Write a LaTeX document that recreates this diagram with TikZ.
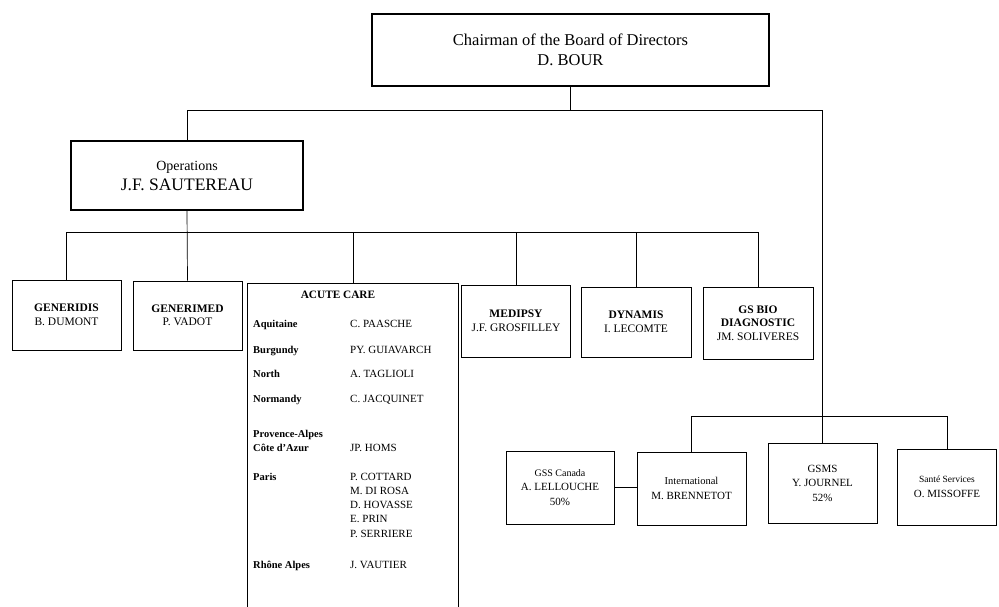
\documentclass[tikz,border=0pt]{standalone}
\usepackage{fontspec}
\setmainfont{Liberation Serif}
\begin{document}
\begin{tikzpicture}[x=1pt,y=-1pt,
  box/.style={draw, line width=0.9pt, rectangle, inner sep=0pt, align=center, font=\fontsize{11.5}{13.5}\selectfont},
  lowbox/.style={box, font=\fontsize{11}{14.5}\selectfont},
  bigbox/.style={box, line width=1.5pt},
  conn/.style={line width=0.7pt},
  lab/.style={anchor=base west, inner sep=0pt, font=\bfseries\fontsize{10.5}{12}\selectfont},
  nm/.style={anchor=base west, inner sep=0pt, font=\fontsize{11}{13}\selectfont}
]
\useasboundingbox (0,0) rectangle (999,607);
\coordinate (bus1) at (0,110);
\coordinate (bus2) at (0,232);
\coordinate (bus3) at (0,416);

\node[bigbox, minimum width=397pt, minimum height=72pt, font=\fontsize{16.5}{20.5}\selectfont] (chair) at (570.5,50) {Chairman of the Board of Directors\\D. BOUR};
\node[bigbox, minimum width=232pt, minimum height=69pt, font=\fontsize{17.5}{20}\selectfont] (ops) at (187,175.5) {{\fontsize{14}{16}\selectfont Operations}\\J.F. SAUTEREAU};

\node[box, minimum width=109pt, minimum height=70pt] (generidis) at (66.5,315) {\textbf{GENERIDIS}\\B. DUMONT};
\node[box, minimum width=109pt, minimum height=69pt] (generimed) at (187.5,315.5) {\textbf{GENERIMED}\\P. VADOT};
\node[box, minimum width=109pt, minimum height=72pt] (medipsy) at (516,321) {\textbf{MEDIPSY}\\J.F. GROSFILLEY};
\node[box, minimum width=110pt, minimum height=70pt] (dynamis) at (636,322) {\textbf{DYNAMIS}\\I. LECOMTE};
\node[box, minimum width=110pt, minimum height=72pt] (gsbio) at (758,323) {\textbf{GS BIO}\\\textbf{DIAGNOSTIC}\\JM. SOLIVERES};

% Acute care box (open at the bottom edge of the page)
\node[inner sep=0pt, minimum width=210pt, minimum height=324pt, anchor=north] (acute) at (353,283) {};
\draw[line width=0.9pt] (acute.south west) -- (acute.north west) -- (acute.north east) -- (acute.south east);
\node[anchor=base, inner sep=0pt, font=\bfseries\fontsize{11.3}{13}\selectfont] (acutetitle) at (338,298) {ACUTE CARE};
\node[lab] (l1) at (253,327) {Aquitaine};
\node[nm]  (n1) at (350,327) {C. PAASCHE};
\node[lab] (l2) at (253,353) {Burgundy};
\node[nm]  (n2) at (350,353) {PY. GUIAVARCH};
\node[lab] (l3) at (253,377) {North};
\node[nm]  (n3) at (350,377) {A. TAGLIOLI};
\node[lab] (l4) at (253,402) {Normandy};
\node[nm]  (n4) at (350,402) {C. JACQUINET};
\node[lab] (l5) at (253,437) {Provence-Alpes};
\node[lab] (l6) at (253,451) {Côte d'Azur};
\node[nm]  (n5) at (350,451) {JP. HOMS};
\node[lab] (l7) at (253,480) {Paris};
\node[nm]  (n6a) at (350,480) {P. COTTARD};
\node[nm]  (n6b) at (350,494) {M. DI ROSA};
\node[nm]  (n6c) at (350,508) {D. HOVASSE};
\node[nm]  (n6d) at (350,522) {E. PRIN};
\node[nm]  (n6e) at (350,537) {P. SERRIERE};
\node[lab] (l8) at (253,568) {Rhône Alpes};
\node[nm]  (n7) at (350,568) {J. VAUTIER};

% Bottom group
\node[lowbox, minimum width=108pt, minimum height=73pt] (canada) at (560,487.5) {{\fontsize{10}{14.5}\selectfont GSS Canada}\\A. LELLOUCHE\\50\%};
\node[lowbox, minimum width=109pt, minimum height=73pt] (intl) at (691.5,488.5) {{\fontsize{10.5}{14.5}\selectfont International}\\M. BRENNETOT};
\node[lowbox, minimum width=109pt, minimum height=80pt] (gsms) at (822.5,483) {GSMS\\Y. JOURNEL\\52\%};
\node[lowbox, minimum width=99pt, minimum height=76pt] (sante) at (947,487) {{\fontsize{9.5}{14.5}\selectfont Santé Services}\\O. MISSOFFE};

% Connectors
\draw[conn] (chair.south) -- (chair.south |- bus1);
\draw[conn] (ops.north) |- (gsms.north |- bus1) -- (gsms.north);
\draw[conn] (ops.south) -- (generimed.north);
\draw[conn] (generidis.north) |- (gsbio.north |- bus2) -- (gsbio.north);
\draw[conn] (acute.north) -- (acute.north |- bus2);
\draw[conn] (medipsy.north) -- (medipsy.north |- bus2);
\draw[conn] (dynamis.north) -- (dynamis.north |- bus2);
\draw[conn] (intl.north) |- (sante.north |- bus3) -- (sante.north);
\draw[conn] (canada.east) -- (canada.east -| intl.west);
\end{tikzpicture}
\end{document}
